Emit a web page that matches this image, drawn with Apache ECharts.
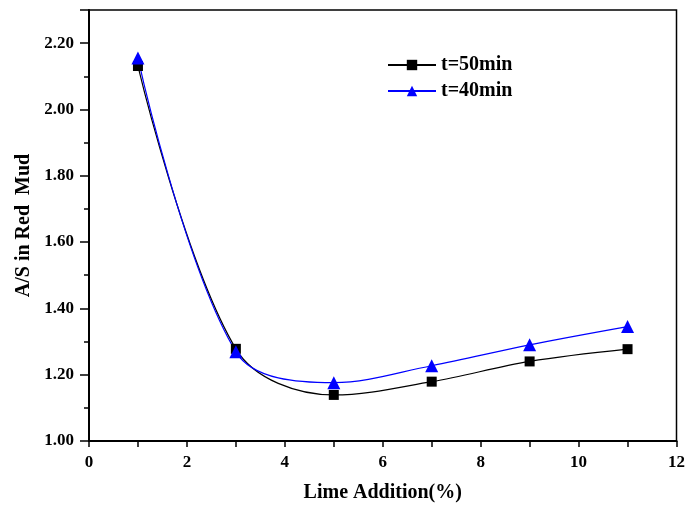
<!DOCTYPE html>
<html>
<head>
<meta charset="utf-8">
<script src="https://cdn.jsdelivr.net/npm/echarts@6/dist/echarts.min.js"></script>
<style>
  html, body { margin: 0; padding: 0; background: #fff; }
  #main { width: 688px; height: 509px; }
</style>
</head>
<body>
<div id="main"></div>
<script>
// 石灰添加量 (%)
var limeAddition = [1, 3, 5, 7, 9, 11];
// A/S 数据
var as50min = [2.131, 1.278, 1.139, 1.179, 1.240, 1.277];
var as40min = [2.155, 1.269, 1.176, 1.227, 1.290, 1.345];

function pairs(xs, ys) {
    return xs.map(function (x, i) { return [x, ys[i]]; });
}

var chart = echarts.init(document.getElementById('main'));
var font = 'Liberation Serif';
var option = {
    animation: false,
    textStyle: { fontFamily: font },
    grid: {
        left: 89,
        top: 10,
        width: 590,
        height: 431,
        show: true,
        borderColor: '#000',
        borderWidth: 1.5
    },
    legend: {
        orient: 'vertical',
        left: 382,
        top: 50,
        itemWidth: 48,
        itemHeight: 13,
        itemGap: 6,
        textStyle: { fontFamily: font, fontWeight: 'bold', fontSize: 20, color: '#000' },
        data: ['t=50min', 't=40min']
    },
    xAxis: {
        type: 'value',
        min: 0,
        max: 12,
        interval: 2,
        name: 'Lime Addition(%)',
        nameLocation: 'middle',
        nameGap: 42,
        nameTextStyle: { fontFamily: font, fontWeight: 'bold', fontSize: 20, color: '#000' },
        axisLine: { lineStyle: { color: '#000', width: 2 } },
        axisTick: { show: true, length: 6, lineStyle: { color: '#000', width: 1.5 } },
        minorTick: { show: true, splitNumber: 2, length: 6, lineStyle: { color: '#000', width: 1.5 } },
        axisLabel: { fontFamily: font, fontWeight: 'bold', fontSize: 17, color: '#000', margin: 13 },
        splitLine: { show: false }
    },
    yAxis: {
        type: 'value',
        min: 1.0,
        max: 2.3,
        interval: 0.2,
        name: 'A/S in Red  Mud',
        nameLocation: 'middle',
        nameGap: 54,
        nameTextStyle: { fontFamily: font, fontWeight: 'bold', fontSize: 20, color: '#000' },
        axisLine: { lineStyle: { color: '#000', width: 2 } },
        axisTick: { show: true, length: 9, lineStyle: { color: '#000', width: 1.5 } },
        minorTick: { show: true, splitNumber: 2, length: 5, lineStyle: { color: '#000', width: 1.5 } },
        axisLabel: {
            fontFamily: font, fontWeight: 'bold', fontSize: 17, color: '#000', margin: 15,
            showMaxLabel: false,
            formatter: function (v) { return v.toFixed(2); }
        },
        splitLine: { show: false }
    },
    series: [
        {
            name: 't=50min',
            type: 'line',
            smooth: 0.35,
            symbol: 'rect',
            symbolSize: 10,
            itemStyle: { color: '#000' },
            lineStyle: { color: '#000', width: 1.2 },
            data: pairs(limeAddition, as50min)
        },
        {
            name: 't=40min',
            type: 'line',
            smooth: 0.35,
            symbol: 'triangle',
            symbolSize: 13,
            itemStyle: { color: '#0000ff' },
            lineStyle: { color: '#0000ff', width: 1.2 },
            data: pairs(limeAddition, as40min)
        }
    ]
};
chart.setOption(option);
</script>
</body>
</html>
